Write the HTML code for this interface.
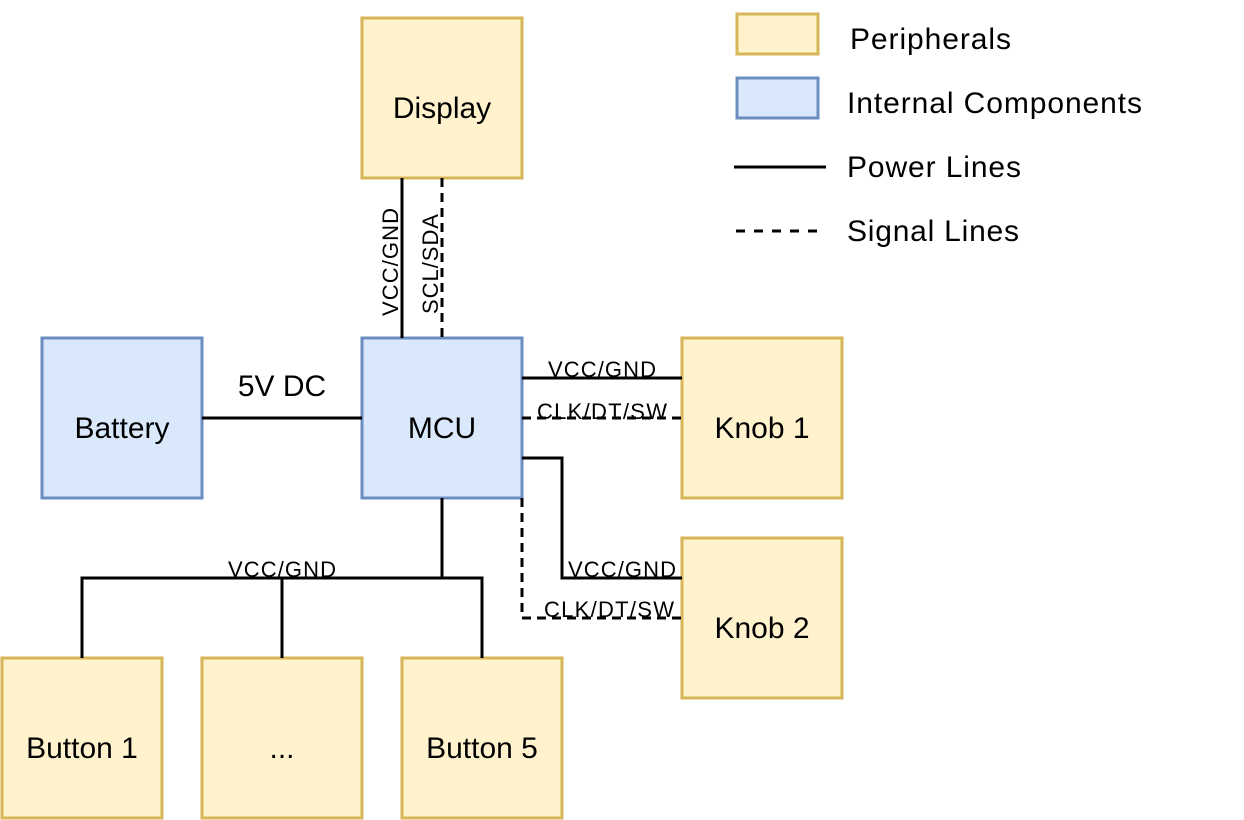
<!DOCTYPE html>
<html><head><style>html,body{margin:0;padding:0;background:#fff}svg{display:block}</style></head>
<body>
<svg width="1244" height="820" viewBox="0 0 1244 820" xmlns="http://www.w3.org/2000/svg" font-family="Liberation Sans, Arial, sans-serif">
<g stroke-width="3">
<rect x="362" y="18" width="160" height="160" fill="#fff2cc" stroke="#d6b656"/>
<rect x="42" y="338" width="160" height="160" fill="#dae8fc" stroke="#6c8ebf"/>
<rect x="362" y="338" width="160" height="160" fill="#dae8fc" stroke="#6c8ebf"/>
<rect x="682" y="338" width="160" height="160" fill="#fff2cc" stroke="#d6b656"/>
<rect x="682" y="538" width="160" height="160" fill="#fff2cc" stroke="#d6b656"/>
<rect x="2" y="658" width="160" height="160" fill="#fff2cc" stroke="#d6b656"/>
<rect x="202" y="658" width="160" height="160" fill="#fff2cc" stroke="#d6b656"/>
<rect x="402" y="658" width="160" height="160" fill="#fff2cc" stroke="#d6b656"/>
<rect x="737" y="14" width="81" height="40" fill="#fff2cc" stroke="#d6b656"/>
<rect x="737" y="78" width="81" height="40" fill="#dae8fc" stroke="#6c8ebf"/>
</g>
<g stroke="#000" stroke-width="3" fill="none">
<line x1="402" y1="178" x2="402" y2="338"/>
<line x1="442" y1="178" x2="442" y2="338" stroke-dasharray="9 6"/>
<line x1="202" y1="418" x2="362" y2="418"/>
<line x1="522" y1="378" x2="682" y2="378"/>
<line x1="522" y1="418" x2="682" y2="418" stroke-dasharray="9 6"/>
<polyline points="522,458 562,458 562,578 682,578"/>
<polyline points="522,498 522,618 682,618" stroke-dasharray="9 6"/>
<line x1="442" y1="498" x2="442" y2="578"/>
<polyline points="82,658 82,578 482,578 482,658"/>
<line x1="282" y1="578" x2="282" y2="658"/>
<line x1="734" y1="167" x2="826" y2="167"/>
<line x1="736" y1="231" x2="826" y2="231" stroke-dasharray="9 9"/>
</g>
<g font-size="30" text-anchor="middle" fill="#000">
<text x="442" y="118">Display</text>
<text x="122" y="438">Battery</text>
<text x="442" y="438">MCU</text>
<text x="762" y="438">Knob 1</text>
<text x="762" y="638">Knob 2</text>
<text x="82" y="758">Button 1</text>
<text x="282" y="758">...</text>
<text x="482" y="758">Button 5</text>
<text x="282" y="396">5V DC</text>
</g>
<g font-size="30" fill="#000">
<text x="850" y="49" textLength="161">Peripherals</text>
<text x="847" y="113" textLength="295">Internal Components</text>
<text x="847" y="177" textLength="174">Power Lines</text>
<text x="847" y="241" textLength="172">Signal Lines</text>
</g>
<g font-size="22" fill="#000" text-anchor="middle">
<text x="602" y="377" textLength="108">VCC/GND</text>
<text x="602" y="419" textLength="130">CLK/DT/SW</text>
<text x="622" y="577" textLength="108">VCC/GND</text>
<text x="609" y="617" textLength="130">CLK/DT/SW</text>
<text x="282" y="577" textLength="108">VCC/GND</text>
<text transform="translate(398,262) rotate(-90)" textLength="108">VCC/GND</text>
<text transform="translate(438,264) rotate(-90)" textLength="100">SCL/SDA</text>
</g>
</svg>
</body></html>
